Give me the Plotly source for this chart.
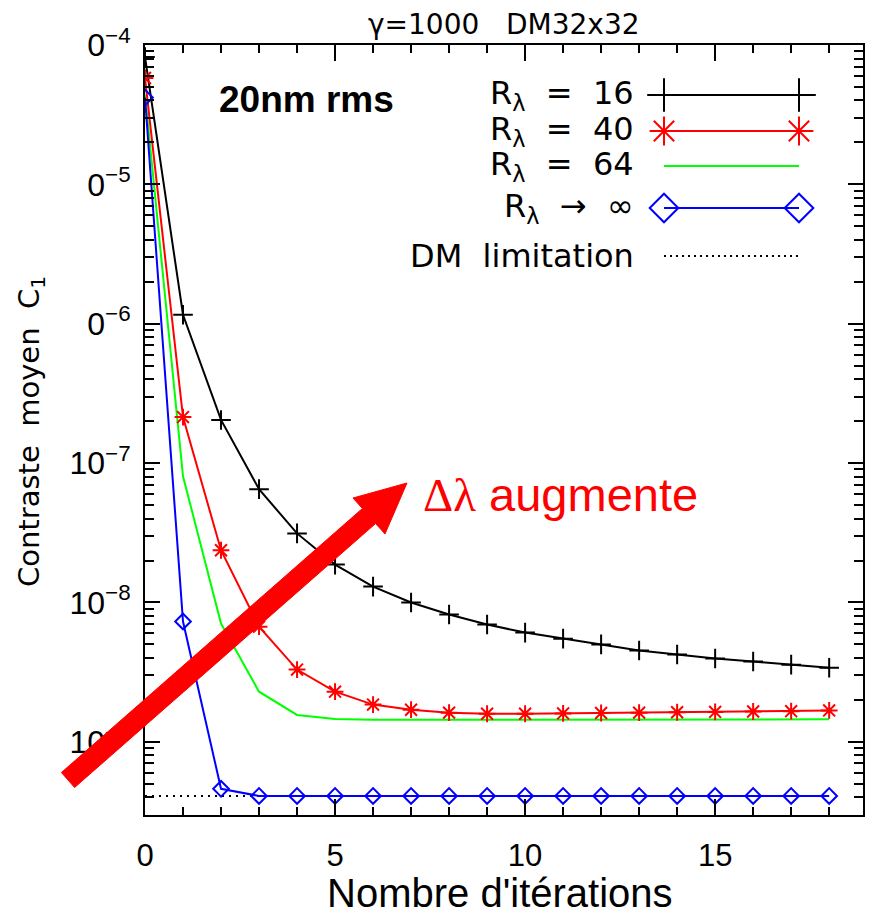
import plotly.graph_objects as go

# ---------------- data ----------------
iterations = [0, 1, 2, 3, 4, 5, 6, 7, 8, 9, 10, 11, 12, 13, 14, 15, 16, 17, 18]
c_r16 = [8.2e-5, 1.16e-6, 2.04e-7, 6.5e-8, 3.13e-8, 1.87e-8, 1.30e-8, 1.0e-8, 8.2e-9,
         6.95e-9, 6.08e-9, 5.5e-9, 5.0e-9, 4.52e-9, 4.23e-9, 3.96e-9, 3.77e-9, 3.58e-9, 3.40e-9]
c_r40 = [5.8e-5, 2.14e-7, 2.37e-8, 6.7e-9, 3.30e-9, 2.29e-9, 1.85e-9, 1.70e-9, 1.62e-9,
         1.59e-9, 1.59e-9, 1.60e-9, 1.61e-9, 1.62e-9, 1.63e-9, 1.64e-9, 1.65e-9, 1.66e-9, 1.68e-9]
c_r64 = [4.4e-5, 8.05e-8, 7.06e-9, 2.29e-9, 1.56e-9, 1.46e-9, 1.44e-9, 1.44e-9, 1.44e-9,
         1.44e-9, 1.44e-9, 1.44e-9, 1.44e-9, 1.44e-9, 1.44e-9, 1.44e-9, 1.44e-9, 1.44e-9, 1.45e-9]
c_inf = [4.2e-5, 7.3e-9, 4.6e-10, 4.09e-10, 4.09e-10, 4.09e-10, 4.09e-10, 4.09e-10, 4.09e-10,
         4.09e-10, 4.09e-10, 4.09e-10, 4.09e-10, 4.09e-10, 4.09e-10, 4.09e-10, 4.09e-10, 4.09e-10, 4.09e-10]
dm_limit = [4.09e-10] * 19

x_tickvals = [0, 5, 10, 15]
x_ticktext = ["0", "5", "10", "15"]
y_tickvals = [1e-9, 1e-8, 1e-7, 1e-6, 1e-5, 1e-4]
y_ticktext = ["10<sup>−9</sup>", "10<sup>−8</sup>", "10<sup>−7</sup>",
              "10<sup>−6</sup>", "10<sup>−5</sup>", "10<sup>−4</sup>"]
legend_labels = ["R<sub>λ</sub>  =  16", "R<sub>λ</sub>  =  40", "R<sub>λ</sub>  =  64",
                 "R<sub>λ</sub>  →  ∞", "DM  limitation"]

# ---------------- layout geometry ----------------
# the page body adds an 8 px offset, so the figure is 8 px smaller than the window
OFF = 8
W, H = 874 - OFF, 918 - OFF
PL, PR, PT, PB = 145, 863, 45, 815      # plot frame in window pixels


def px(X):
    return (X - PL) / (PR - PL)


def py(Y):
    return (PB - Y) / (PB - PT)


fig = go.Figure()

# DM limitation (drawn first, under the others)
fig.add_trace(go.Scatter(x=iterations, y=dm_limit, mode="lines",
                         line=dict(color="black", width=2, dash="2px,5px"),
                         showlegend=False))
fig.add_trace(go.Scatter(x=iterations, y=c_r64, mode="lines",
                         line=dict(color="#00ff00", width=2), showlegend=False))
fig.add_trace(go.Scatter(x=iterations, y=c_r16, mode="lines+markers",
                         line=dict(color="black", width=2),
                         marker=dict(symbol="cross-thin-open", size=14,
                                     line=dict(color="black", width=2)),
                         showlegend=False))
fig.add_trace(go.Scatter(x=iterations, y=c_r40, mode="lines+markers",
                         line=dict(color="#ff0000", width=2),
                         marker=dict(symbol="asterisk-open", size=14,
                                     line=dict(color="#ff0000", width=2)),
                         showlegend=False))
fig.add_trace(go.Scatter(x=iterations, y=c_inf, mode="lines+markers",
                         line=dict(color="#0000ff", width=2),
                         marker=dict(symbol="diamond-open", size=12,
                                     line=dict(color="#0000ff", width=2)),
                         showlegend=False))

# ---------------- manual legend (samples on a pixel overlay axis) ----------------
leg_rows = [95, 131, 166, 208, 256]
leg_x0, leg_x1 = 664, 799
fig.add_trace(go.Scatter(x=[leg_x0, leg_x1], y=[leg_rows[0]] * 2, xaxis="x2", yaxis="y2",
                         mode="lines+markers", line=dict(color="black", width=2),
                         marker=dict(symbol="cross-thin-open", size=24,
                                     line=dict(color="black", width=2)),
                         showlegend=False))
fig.add_trace(go.Scatter(x=[leg_x0, leg_x1], y=[leg_rows[1]] * 2, xaxis="x2", yaxis="y2",
                         mode="lines+markers", line=dict(color="#ff0000", width=2),
                         marker=dict(symbol="asterisk-open", size=24,
                                     line=dict(color="#ff0000", width=2)),
                         showlegend=False))
fig.add_trace(go.Scatter(x=[leg_x0, leg_x1], y=[leg_rows[2]] * 2, xaxis="x2", yaxis="y2",
                         mode="lines", line=dict(color="#00ff00", width=2),
                         showlegend=False))
fig.add_trace(go.Scatter(x=[leg_x0, leg_x1], y=[leg_rows[3]] * 2, xaxis="x2", yaxis="y2",
                         mode="lines+markers", line=dict(color="#0000ff", width=2),
                         marker=dict(symbol="diamond-open", size=22,
                                     line=dict(color="#0000ff", width=2)),
                         showlegend=False))
fig.add_trace(go.Scatter(x=[leg_x0, leg_x1], y=[leg_rows[4]] * 2, xaxis="x2", yaxis="y2",
                         mode="lines", line=dict(color="black", width=2, dash="2px,4px"),
                         showlegend=False))

annotations = []
for lab, row in zip(legend_labels, leg_rows):
    annotations.append(dict(x=px(636), y=py(row), xref="paper", yref="paper",
                            xanchor="right", yanchor="middle", showarrow=False,
                            text=lab, font=dict(family="DejaVu Sans", size=32, color="black")))

# title
annotations.append(dict(x=0.5, y=py(25), xref="paper", yref="paper", xanchor="center",
                        yanchor="middle", showarrow=False, text="γ=1000   DM32x32",
                        font=dict(family="DejaVu Sans", size=28, color="black")))
# 20nm rms
annotations.append(dict(x=px(217), y=py(99), xref="paper", yref="paper", xanchor="left",
                        yanchor="middle", showarrow=False, text="<b>20nm rms</b>",
                        font=dict(family="Liberation Sans", size=37, color="black")))
# x title
annotations.append(dict(x=px(500), y=py(893), xref="paper", yref="paper", xanchor="center",
                        yanchor="middle", showarrow=False, text="Nombre d'itérations",
                        font=dict(family="Liberation Sans", size=40, color="black")))
# y title
annotations.append(dict(x=px(31), y=py(432), xref="paper", yref="paper", xanchor="center",
                        yanchor="middle", showarrow=False, textangle=-90,
                        text="Contraste  moyen  C<sub>1</sub>",
                        font=dict(family="DejaVu Sans", size=29, color="black")))
# red label
annotations.append(dict(x=px(421), y=py(494), xref="paper", yref="paper", xanchor="left",
                        yanchor="middle", showarrow=False,
                        text="<span style='font-family:Liberation Serif'>Δλ</span> augmente",
                        font=dict(family="Liberation Sans", size=47, color="#ff0000")))

# ---------------- big red arrow ----------------
arrow_pts = [(61.4, 772.5), (362.4, 508.5), (353, 498), (407, 483), (385, 534),
             (375.6, 523.5), (74.6, 787.5)]
path = "M " + " L ".join(f"{px(a):.5f},{py(b):.5f}" for a, b in arrow_pts) + " Z"
shapes = [
    # white mask clipping the upper tick labels as in the original scan
    dict(type="rect", xref="paper", yref="paper", x0=px(50), x1=px(87), y0=py(0), y1=py(345),
         fillcolor="white", line=dict(width=0), layer="above"),
    dict(type="path", xref="paper", yref="paper", path=path, fillcolor="#ff0000",
         line=dict(color="#ff0000", width=1), layer="above"),
]

# minor ticks for log axis
y_minor = [m * 10.0 ** e for e in range(-10, -4) for m in range(2, 10)]
y_minor = [v for v in y_minor if 2.9e-10 < v < 1e-4]

fig.update_layout(
    template="none",
    width=W, height=H,
    margin=dict(l=PL - OFF, r=874 - PR, t=PT - OFF, b=918 - PB, pad=0, autoexpand=False),
    paper_bgcolor="white", plot_bgcolor="white",
    showlegend=False,
    annotations=annotations,
    shapes=shapes,
    xaxis=dict(range=[0, 18.89], showgrid=False, zeroline=False, automargin=False,
               showline=True, linecolor="black", linewidth=2, mirror="ticks",
               tickmode="array", tickvals=x_tickvals, ticktext=x_ticktext,
               ticks="inside", ticklen=16, tickwidth=2, tickcolor="black",
               ticklabelstandoff=12,
               minor=dict(dtick=1, ticks="inside", ticklen=8, tickwidth=2, tickcolor="black",
                          showgrid=False),
               tickfont=dict(family="Liberation Sans", size=31, color="black")),
    yaxis=dict(type="log", range=[-9.525, -4], showgrid=False, zeroline=False, automargin=False,
               showline=True, linecolor="black", linewidth=2, mirror="ticks",
               tickmode="array", tickvals=y_tickvals, ticktext=y_ticktext,
               ticks="inside", ticklen=15, tickwidth=2, tickcolor="black",
               ticklabelstandoff=6,
               minor=dict(tickvals=y_minor, ticks="inside", ticklen=9, tickwidth=2,
                          tickcolor="black", showgrid=False),
               tickfont=dict(family="Liberation Sans Narrow, Liberation Sans", size=32,
                             color="black")),
    xaxis2=dict(overlaying="x", range=[PL, PR], visible=False, fixedrange=True, automargin=False),
    yaxis2=dict(overlaying="y", range=[PB, PT], visible=False, fixedrange=True, automargin=False),
)

fig.write_html("out.html")
